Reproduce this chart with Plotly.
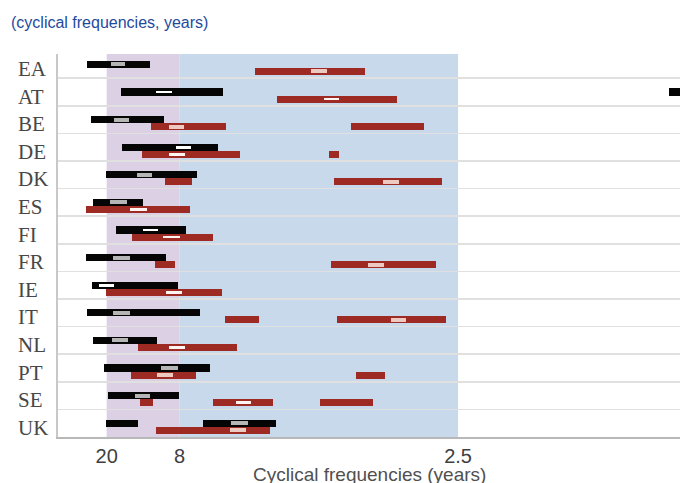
import plotly.graph_objects as go

countries = ["EA", "AT", "BE", "DE", "DK", "ES", "FI", "FR", "IE", "IT", "NL", "PT", "SE", "UK"]

# Frequency axis (cycles per year), positions
tick_vals = [0.05, 0.125, 0.411]
tick_text = ["20", "8", "2.5"]
band_long = [0.05, 0.125]     # 20 to 8 years
band_short = [0.125, 0.411]   # 8 to 2.5 years
x_range = [0, 0.639]

# Black ranges
black_country = ["EA", "AT", "AT", "BE", "DE", "DK", "ES", "FI", "FR", "IE", "IT", "NL", "PT", "SE", "UK", "UK"]
black_lo = [0.030, 0.065, 0.628, 0.034, 0.066, 0.049, 0.036, 0.060, 0.029, 0.035, 0.030, 0.036, 0.047, 0.051, 0.049, 0.149]
black_hi = [0.094, 0.169, 0.660, 0.109, 0.164, 0.143, 0.087, 0.132, 0.111, 0.123, 0.146, 0.102, 0.156, 0.124, 0.082, 0.224]

black_mark_country = ["EA", "AT", "BE", "DE", "DK", "ES", "FI", "FR", "IE", "IT", "NL", "PT", "SE", "UK"]
black_mark_lo = [0.054, 0.101, 0.058, 0.121, 0.081, 0.053, 0.087, 0.057, 0.042, 0.057, 0.055, 0.106, 0.079, 0.178]
black_mark_hi = [0.069, 0.117, 0.073, 0.137, 0.097, 0.071, 0.103, 0.074, 0.058, 0.074, 0.072, 0.123, 0.095, 0.195]
black_mark_white = [False, True, False, True, False, False, True, False, True, False, False, False, False, False]

# Red ranges
red_country = ["EA", "AT", "BE", "BE", "DE", "DE", "DK", "DK", "ES", "FI", "FR", "FR", "IE", "IT", "IT",
               "NL", "PT", "PT", "SE", "SE", "SE", "UK"]
red_lo = [0.202, 0.225, 0.096, 0.301, 0.086, 0.278, 0.110, 0.284, 0.029, 0.076, 0.100, 0.280, 0.049, 0.172, 0.287,
          0.082, 0.075, 0.306, 0.084, 0.159, 0.269, 0.101]
red_hi = [0.315, 0.348, 0.173, 0.376, 0.187, 0.289, 0.138, 0.395, 0.136, 0.159, 0.120, 0.388, 0.168, 0.207, 0.399,
          0.184, 0.142, 0.336, 0.098, 0.221, 0.324, 0.218]

red_mark_country = ["EA", "AT", "BE", "DE", "DK", "ES", "FI", "FR", "IE", "IT", "NL", "PT", "SE", "UK"]
red_mark_lo = [0.260, 0.273, 0.114, 0.114, 0.334, 0.074, 0.108, 0.318, 0.111, 0.342, 0.114, 0.102, 0.183, 0.177]
red_mark_hi = [0.276, 0.289, 0.129, 0.130, 0.350, 0.091, 0.125, 0.335, 0.127, 0.358, 0.130, 0.118, 0.198, 0.193]
red_mark_white = [False, True, False, True, False, True, True, False, True, False, True, False, True, False]

BLACK = "#050505"
RED = "#9e2a24"
BAR_H = 0.254
RED_OFF = -0.254

row = {c: len(countries) - 1 - i for i, c in enumerate(countries)}

fig = go.Figure()


def add_bars(cs, lo, hi, off, color, width):
    fig.add_trace(go.Bar(
        orientation="h",
        y=[row[c] + off for c in cs],
        base=lo,
        x=[h - l for l, h in zip(lo, hi)],
        width=width,
        marker=dict(color=color, line=dict(width=0)),
        hoverinfo="skip",
        showlegend=False,
    ))


add_bars(black_country, black_lo, black_hi, 0, BLACK, BAR_H)
add_bars(red_country, red_lo, red_hi, RED_OFF, RED, BAR_H)

# markers
for cs, lo, hi, wh, off, grey_col, white_col in [
    (black_mark_country, black_mark_lo, black_mark_hi, black_mark_white, 0, "#b5b5b5", "#ffffff"),
    (red_mark_country, red_mark_lo, red_mark_hi, red_mark_white, RED_OFF, "#eec9c2", "#fff4f2"),
]:
    for flag, col, w in [(False, grey_col, 0.15), (True, white_col, 0.10)]:
        idx = [i for i in range(len(cs)) if wh[i] == flag]
        add_bars([cs[i] for i in idx], [lo[i] for i in idx], [hi[i] for i in idx], off, col, w)

fig.add_vrect(x0=band_long[0], x1=band_long[1], fillcolor="#dcd1e4", line_width=0, layer="below")
fig.add_vrect(x0=band_short[0], x1=band_short[1], fillcolor="#c9d9ec", line_width=0, layer="below")

n = len(countries)
y_top = -0.5 + 383 / 27.6
grid_vals = [k + 0.5 for k in range(n - 1)] + [y_top]

for c in countries:
    fig.add_annotation(
        xref="paper", yref="y", x=(16 - 58) / 622, y=row[c] - 0.17,
        text=c, showarrow=False, xanchor="left", yanchor="middle",
        font=dict(family="Liberation Serif", size=21, color="#474747"),
    )

fig.add_annotation(
    xref="paper", yref="paper", x=0.5, y=(437 - 474) / 383,
    text="Cyclical frequencies (years)", showarrow=False, xanchor="center", yanchor="middle",
    font=dict(family="Liberation Sans", size=19, color="#505050"),
)

fig.update_layout(
    width=680, height=483,
    margin=dict(l=58, r=0, t=54, b=46),
    paper_bgcolor="white", plot_bgcolor="white",
    barmode="overlay", bargap=0,
    hovermode=False,
    title=dict(
        text="(cyclical frequencies, years)",
        x=11 / 680, xanchor="left", xref="container",
        y=1 - 22 / 483, yanchor="middle", yref="container",
        font=dict(family="Liberation Sans", size=16, color="#1e4a9e"),
    ),
    xaxis=dict(
        range=x_range, tickmode="array", tickvals=tick_vals, ticktext=tick_text,
        showgrid=False, zeroline=False, ticks="",
        showline=True, linecolor="#b8b8b8", linewidth=2,
        tickfont=dict(family="Liberation Sans", size=20, color="#404040"),
    ),
    yaxis=dict(
        range=[-0.5, y_top], tickmode="array", tickvals=grid_vals,
        showticklabels=False, showgrid=True, gridcolor="#e0e0e0", gridwidth=1.5,
        zeroline=False, ticks="",
        showline=True, linecolor="#c8c8c8", linewidth=2,
    ),
)

fig.write_html(
    "out.html",
    config={"displayModeBar": False, "staticPlot": True},
    post_script="document.body.style.margin='0';document.documentElement.style.overflow='hidden';",
)
